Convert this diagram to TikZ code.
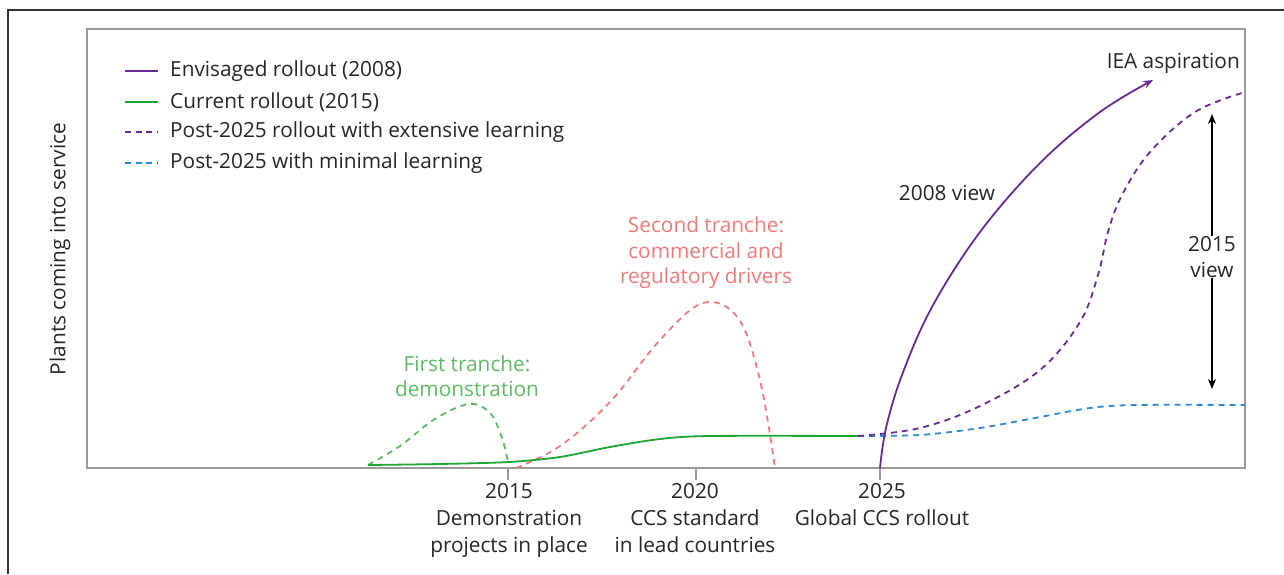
\documentclass[tikz,border=0pt]{standalone}
\usepackage{fontspec}
\setmainfont{Open Sans}
\usetikzlibrary{arrows.meta}
\definecolor{cpurple}{HTML}{6A2A92}
\definecolor{cgreen}{HTML}{1EA532}
\definecolor{clgreen}{HTML}{5DBB63}
\definecolor{cred}{HTML}{F07A7A}
\definecolor{cblue}{HTML}{2C8AD8}
\definecolor{caxis}{HTML}{9A9A9A}
\tikzset{
  lbl/.style={font=\fontsize{20.8}{25.5}\selectfont, text=black!85, inner sep=0pt, align=center},
  ticklbl/.style={lbl, font=\fontsize{20.8}{27}\selectfont, anchor=north},
  curve/.style={line width=1.8pt},
  dcurve/.style={line width=1.8pt, dash pattern=on 6pt off 5pt},
  tick/.style={caxis, line width=1.2pt},
}
\begin{document}
\begin{tikzpicture}[x=1pt,y=-1pt]
\useasboundingbox (0,0) rectangle (1284,574);
% outer frame
\draw[line width=1.2pt, black!80] (8,574) -- (8,10) -- (1284,10);
% axes box
\draw[caxis, line width=1.5pt] (87,29) rectangle (1245,468);
% ticks
\coordinate (t15) at (508,468);
\coordinate (t20) at (696,468);
\coordinate (t25) at (880,468);
\draw[tick] (t15) -- ++(0,12);
\draw[tick] (t20) -- ++(0,12);
\draw[tick] (t25) -- ++(0,12);
\node[ticklbl] (l15) at (509,483) {2015\\Demonstration\\projects in place};
\node[ticklbl] (l20) at (695,483) {2020\\CCS standard\\in lead countries};
\node[ticklbl] (l25) at (882,483) {2025\\Global CCS rollout};
% y label
\node[lbl, rotate=90] (ylab) at (60,249) {Plants coming into service};
% legend
\draw[cpurple, line width=1.5pt] (125,71) -- (158,71);
\node[lbl, anchor=west] (lg1) at (170,71) {Envisaged rollout (2008)};
\draw[cgreen, line width=1.5pt] (125,102) -- (158,102);
\node[lbl, anchor=west] (lg2) at (170,102) {Current rollout (2015)};
\draw[cpurple, line width=2pt, dash pattern=on 6pt off 4.5pt] (125,132) -- (158,132);
\node[lbl, anchor=west] (lg3) at (170,132) {Post-2025 rollout with extensive learning};
\draw[cblue, line width=1.5pt, dash pattern=on 6pt off 4.5pt] (125,163) -- (158,163);
\node[lbl, anchor=west] (lg4) at (170,163) {Post-2025 with minimal learning};
% tranche labels
\node[lbl, text=clgreen] (first) at (467,376) {First tranche:\\demonstration};
\node[lbl, text=cred] (second) at (706,253) {Second tranche:\\commercial and\\regulatory drivers};
% curves
\coordinate (gs) at (368,465);
\coordinate (ge) at (858,436);
\draw[clgreen, dcurve] plot[smooth, tension=0.6] coordinates {(368,465) (400,446) (435,419) (469,404) (490,413) (502,438) (508,462)};
\draw[cred, dcurve] plot[smooth, tension=0.6] coordinates {(516,468) (560,446) (610,402) (660,340) (703,303) (738,318) (760,380) (775,468)};
\draw[cgreen, curve] plot[smooth, tension=0.5] coordinates {(gs) (440,464) (509,462) (560,457) (610,447) (660,439) (710,436) (ge)};
\draw[cblue, dcurve] plot[smooth, tension=0.5] coordinates {(ge) (920,435) (980,428) (1040,417) (1090,408) (1135,405) (1245,405)};
\draw[cpurple, dcurve] plot[smooth, tension=0.6] coordinates {(ge) (920,428) (980,406) (1040,370) (1080,322) (1098,275) (1108,232) (1122,195) (1150,152) (1195,112) (1245,92)};
\coordinate (iea) at (1153,80);
\draw[cpurple, curve, -{Stealth[length=10pt,width=8pt]}] plot[smooth, tension=0.6] coordinates {(t25) (886,428) (902,375) (932,307) (980,232) (1040,163) (1100,112) (iea)};
\node[lbl, anchor=east] (ieal) at (1240,63) {IEA aspiration};
\node[lbl] (v08) at (947,193) {2008 view};
% double arrow
\node[lbl] (v15) at (1212,257) {2015\\view};
\coordinate (atop) at (1212,114);
\coordinate (abot) at (1212,389);
\draw[line width=1.5pt, -{Stealth[length=10pt,width=8pt]}] (v15.north) -- (atop);
\draw[line width=1.5pt, -{Stealth[length=10pt,width=8pt]}] (v15.south) -- (abot);
\end{tikzpicture}
\end{document}
